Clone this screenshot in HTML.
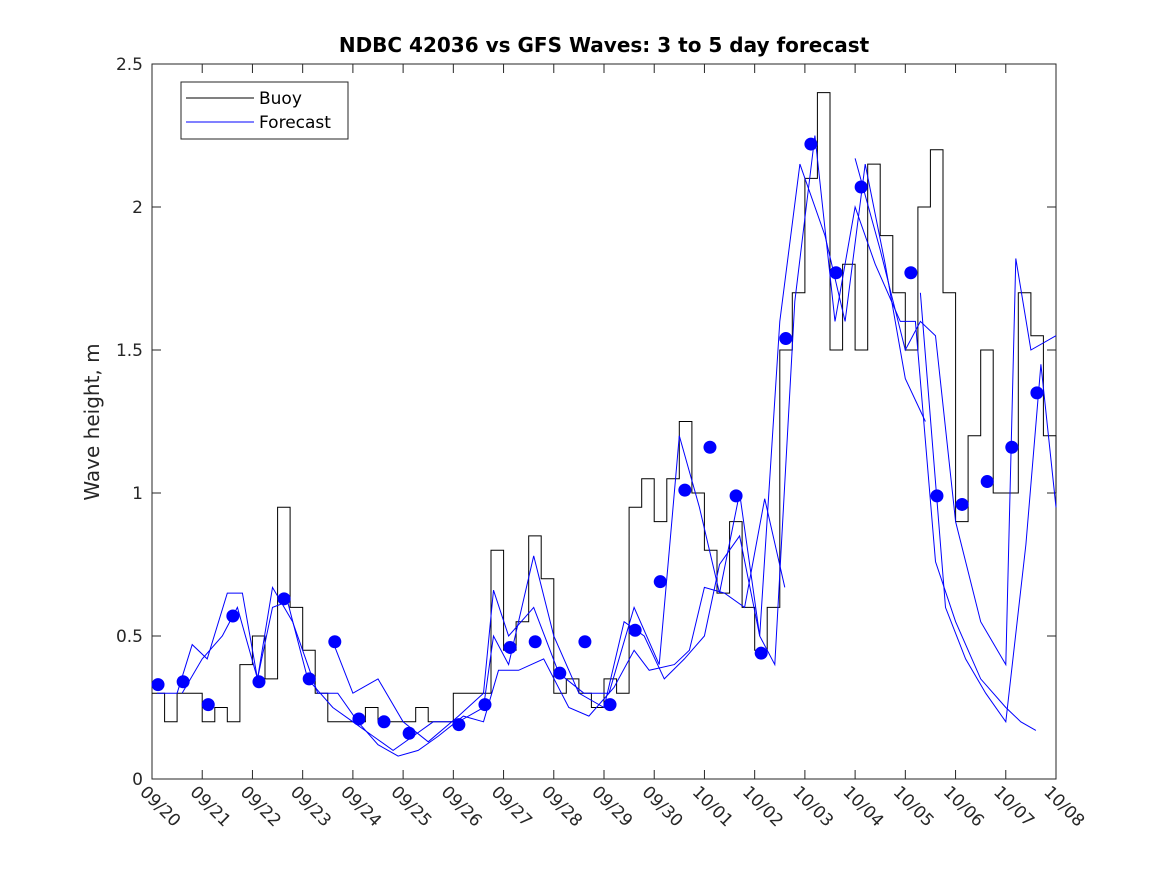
<!DOCTYPE html>
<html><head><meta charset="utf-8"><style>
body{margin:0;background:#fff;}
svg{display:block;font-family:"DejaVu Sans","Liberation Sans",sans-serif;}
</style></head><body>
<svg id="chart" width="1167" height="875" viewBox="0 0 1167 875">
<rect width="1167" height="875" fill="#fff"/>
<text x="604" y="52" text-anchor="middle" font-weight="bold" font-size="20" fill="#000">NDBC 42036 vs GFS Waves: 3 to 5 day forecast</text>
<text transform="translate(99,422) rotate(-90)" text-anchor="middle" font-size="20" fill="#262626">Wave height, m</text>
<g id="axes"></g>
<g id="series"></g>
<g>
<rect x="181" y="82" width="167" height="57" fill="#fff" stroke="#262626" stroke-width="1"/>
<line x1="186" y1="98" x2="254" y2="98" stroke="#000"/>
<text x="259" y="104" font-size="17" fill="#000">Buoy</text>
<line x1="186" y1="122" x2="254" y2="122" stroke="#00f"/>
<text x="259" y="128" font-size="17" fill="#000">Forecast</text>
</g>
</svg>
<script>
const xTicks=["09/20","09/21","09/22","09/23","09/24","09/25","09/26","09/27","09/28","09/29","09/30","10/01","10/02","10/03","10/04","10/05","10/06","10/07","10/08"];
const yTicks=[0,0.5,1,1.5,2,2.5];
const buoyStep=0.25;
const buoy=[0.3,0.2,0.3,0.3,0.2,0.25,0.2,0.4,0.5,0.35,0.95,0.6,0.45,0.3,0.2,0.2,0.2,0.25,0.2,0.2,0.2,0.25,0.2,0.2,0.3,0.3,0.3,0.8,0.45,0.55,0.85,0.7,0.3,0.35,0.3,0.25,0.35,0.3,0.95,1.05,0.9,1.05,1.25,1.0,0.8,0.65,0.9,0.6,0.45,0.6,1.5,1.7,2.1,2.4,1.5,1.8,1.5,2.15,1.9,1.7,1.5,2.0,2.2,1.7,0.9,1.2,1.5,1.0,1.0,1.7,1.55,1.2,1.0];
const dotDays=[0.12,0.62,1.12,1.61,2.13,2.63,3.13,3.64,4.12,4.62,5.12,6.11,6.63,7.13,7.63,8.12,8.62,9.12,9.62,10.12,10.61,11.11,11.63,12.13,12.62,13.12,13.62,14.12,15.11,15.63,16.13,16.63,17.12,17.62];
const dotVals=[0.33,0.34,0.26,0.57,0.34,0.63,0.35,0.48,0.21,0.20,0.16,0.19,0.26,0.46,0.48,0.37,0.48,0.26,0.52,0.69,1.01,1.16,0.99,0.44,1.54,2.22,1.77,2.07,1.77,0.99,0.96,1.04,1.16,1.35];
const fc1=[[0.1,0.3],[0.5,0.3],[0.8,0.47],[1.1,0.42],[1.5,0.65],[1.8,0.65],[2.1,0.35],[2.4,0.6],[2.7,0.62],[3.1,0.35],[3.6,0.25],[4.0,0.2],[4.4,0.15],[4.8,0.1],[5.2,0.15],[5.6,0.2],[6.1,0.2],[6.6,0.25],[6.8,0.5],[7.1,0.4],[7.6,0.78],[8.0,0.5],[8.5,0.3],[9.0,0.25],[9.4,0.55],[9.8,0.5],[10.2,0.35],[10.6,0.42],[11.0,0.5],[11.3,0.75],[11.7,0.85],[12.1,0.5],[12.4,0.4],[12.8,1.67],[13.2,2.25],[13.6,1.6],[14.0,2.0],[14.4,1.8],[14.9,1.6],[15.2,1.6],[15.6,0.76],[16.0,0.55],[16.5,0.35],[17.0,0.25],[17.3,0.2],[17.6,0.17]];
const fc2=[[0.6,0.3],[1.0,0.42],[1.4,0.5],[1.7,0.6],[2.1,0.35],[2.4,0.67],[2.8,0.55],[3.3,0.3],[3.7,0.3],[4.1,0.2],[4.5,0.12],[4.9,0.08],[5.3,0.1],[5.7,0.15],[6.2,0.22],[6.6,0.2],[6.9,0.38],[7.3,0.38],[7.8,0.42],[8.3,0.25],[8.7,0.22],[9.2,0.32],[9.6,0.45],[9.9,0.38],[10.4,0.4],[10.7,0.45],[11.0,0.67],[11.4,0.65],[11.8,0.6],[12.2,0.98],[12.6,0.67]];
const fc3=[[3.6,0.48],[4.0,0.3],[4.5,0.35],[5.0,0.2],[5.5,0.13],[6.1,0.22],[6.6,0.3],[6.8,0.66],[7.1,0.5],[7.6,0.6],[8.1,0.37],[8.6,0.3],[9.1,0.3],[9.6,0.6],[10.1,0.4],[10.3,0.8],[10.5,1.2],[10.9,0.95],[11.3,0.65],[11.7,1.0],[12.1,0.5],[12.5,1.6],[12.9,2.15],[13.4,1.9],[13.8,1.6],[14.2,2.15],[14.6,1.8],[15.0,1.4],[15.4,1.25]];
const fc4=[[14.0,2.17],[14.5,1.85],[15.0,1.5],[15.3,1.6],[15.6,1.55],[16.0,0.9],[16.5,0.55],[17.0,0.4],[17.2,1.82],[17.5,1.5],[18.0,1.55]];
const fc5=[[15.3,1.7],[15.8,0.6],[16.2,0.42],[16.6,0.3],[17.0,0.2],[17.4,0.82],[17.7,1.45],[18.0,0.95]];
const forecasts=[fc1,fc2,fc3,fc4,fc5];

const X0=152,X1=1056,Y0=779,Y1=64,NS="http://www.w3.org/2000/svg";
const xS=d=>X0+d*(X1-X0)/18;
const yS=v=>Y0-v*(Y0-Y1)/2.5;
function mk(tag,attrs,parent){const e=document.createElementNS(NS,tag);for(const k in attrs)e.setAttribute(k,attrs[k]);parent.appendChild(e);return e;}
const ax=document.getElementById('axes'),se=document.getElementById('series');
const box=mk('rect',{x:X0,y:Y1,width:X1-X0,height:Y0-Y1,fill:'none',stroke:'#262626','stroke-width':1},ax);


xTicks.forEach((t,i)=>{const x=xS(i);
 mk('line',{x1:x,y1:Y0,x2:x,y2:Y0-9,stroke:'#262626'},ax);
 mk('line',{x1:x,y1:Y1,x2:x,y2:Y1+9,stroke:'#262626'},ax);
 const tx=mk('text',{transform:`translate(${x-13},${Y0+14}) rotate(45)`,'font-size':17,fill:'#262626'},ax);
 tx.textContent=t;
 
 
});
yTicks.forEach(v=>{const y=yS(v);
 mk('line',{x1:X0,y1:y,x2:X0+9,y2:y,stroke:'#262626'},ax);
 mk('line',{x1:X1,y1:y,x2:X1-9,y2:y,stroke:'#262626'},ax);
 const tx=mk('text',{x:X0-9,y:y+6,'text-anchor':'end','font-size':17,fill:'#262626'},ax);
 tx.textContent=String(v);
 
 
});
let bp='';buoy.forEach((v,i)=>{const x=xS(i*buoyStep),y=yS(v);bp+=(i?'L':'M')+x.toFixed(1)+','+y.toFixed(1)+' ';if(i<buoy.length-1){bp+='L'+xS((i+1)*buoyStep).toFixed(1)+','+y.toFixed(1)+' ';}});
const bl=mk('path',{d:bp,fill:'none',stroke:'#000','stroke-width':1},se);


forecasts.forEach(f=>{const d=f.map((p,i)=>(i?'L':'M')+xS(p[0]).toFixed(1)+','+yS(p[1]).toFixed(1)).join(' ');
 const l=mk('path',{d:d,fill:'none',stroke:'#00f','stroke-width':1},se);
 
 
});
dotDays.forEach((d,i)=>{const c=mk('circle',{cx:xS(d),cy:yS(dotVals[i]),r:6.5,fill:'#00f'},se);
 
 
});
</script>
</body></html>
